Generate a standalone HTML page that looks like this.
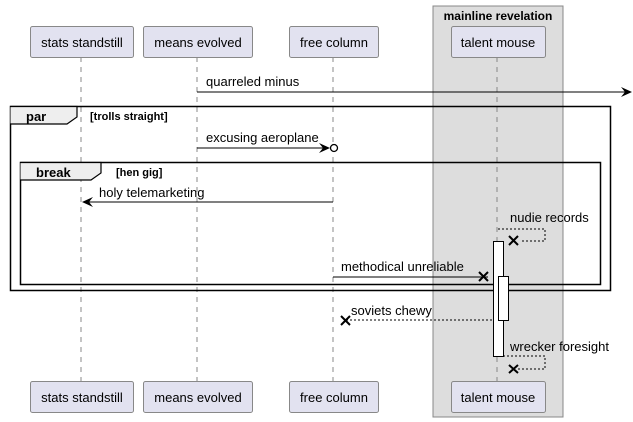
<!DOCTYPE html>
<html><head><meta charset="utf-8"><style>
html,body{margin:0;padding:0;background:#fff;width:633px;height:422px;overflow:hidden}
text{font-family:"Liberation Sans",sans-serif;font-size:13px;fill:#000}
.b{font-weight:bold;font-size:11px}
</style></head><body>
<svg width="633" height="422" viewBox="0 0 633 422" xmlns="http://www.w3.org/2000/svg">
<rect x="433" y="6" width="130" height="411" fill="#dddddd" stroke="#888" stroke-width="1"/>
<text x="498" y="20" text-anchor="middle" style="font-weight:bold;font-size:12px">mainline revelation</text>
<g stroke="#888" stroke-width="1" stroke-dasharray="5,5">
<line x1="81" y1="57" x2="81" y2="381"/>
<line x1="197" y1="57" x2="197" y2="381"/>
<line x1="333" y1="57" x2="333" y2="381"/>
<line x1="497" y1="57" x2="497" y2="381"/>
</g>
<g fill="#e2e2f0" stroke="#888" stroke-width="1">
<rect x="30.5" y="26.5" width="103" height="31" rx="2"/>
<rect x="143.5" y="26.5" width="109" height="31" rx="2"/>
<rect x="289.5" y="26.5" width="89" height="31" rx="2"/>
<rect x="451.5" y="26.5" width="94" height="31" rx="2"/>
<rect x="30.5" y="381.5" width="103" height="31" rx="2"/>
<rect x="143.5" y="381.5" width="109" height="31" rx="2"/>
<rect x="289.5" y="381.5" width="89" height="31" rx="2"/>
<rect x="451.5" y="381.5" width="94" height="31" rx="2"/>
</g>
<g text-anchor="middle">
<text x="82" y="47">stats standstill</text><text x="198" y="47">means evolved</text>
<text x="334" y="47">free column</text><text x="498" y="47">talent mouse</text>
<text x="82" y="402">stats standstill</text><text x="198" y="402">means evolved</text>
<text x="334" y="402">free column</text><text x="498" y="402">talent mouse</text>
</g>
<!-- quarreled minus -->
<line x1="197" y1="92" x2="631" y2="92" stroke="#000"/>
<path d="M621,87 L632,92 L621,97 L625,92 Z" fill="#000"/>
<text x="206" y="86">quarreled minus</text>
<!-- par frame -->
<rect x="10.5" y="106.5" width="600" height="184" fill="none" stroke="#000" stroke-width="1.5"/>
<path d="M10.5,106.5 H77 V117 L67,124 H10.5" fill="#eee" stroke="#000" stroke-width="1.2"/>
<text x="26" y="121" style="font-weight:bold">par</text>
<text x="90" y="120" class="b">[trolls straight]</text>
<!-- excusing aeroplane -->
<line x1="197" y1="148" x2="329" y2="148" stroke="#000"/>
<path d="M319,143 L330,148 L319,153 L323,148 Z" fill="#000"/>
<circle cx="334" cy="148" r="3.5" fill="#fff" stroke="#000" stroke-width="1.3"/>
<text x="206" y="142">excusing aeroplane</text>
<!-- break frame -->
<rect x="20.5" y="162.5" width="580" height="122" fill="none" stroke="#000" stroke-width="1.5"/>
<path d="M20.5,162.5 H101 V173 L91,180 H20.5" fill="#eee" stroke="#000" stroke-width="1.2"/>
<text x="36" y="177" style="font-weight:bold">break</text>
<text x="116" y="176" class="b">[hen gig]</text>
<!-- holy telemarketing -->
<line x1="83" y1="202" x2="333" y2="202" stroke="#000"/>
<path d="M93,197 L82,202 L93,207 L89,202 Z" fill="#000"/>
<text x="99" y="197">holy telemarketing</text>
<!-- nudie records -->
<path d="M498,229 H545 V241 H520" fill="none" stroke="#000" stroke-dasharray="2,2"/>
<path d="M509,236 L518,245 M518,236 L509,245" stroke="#000" stroke-width="2"/>
<text x="510" y="222">nudie records</text>
<!-- activations -->
<rect x="493.5" y="241.5" width="10" height="115" fill="#fff" stroke="#000"/>
<rect x="498.5" y="276.5" width="10" height="44" fill="#fff" stroke="#000"/>
<!-- methodical unreliable -->
<line x1="333" y1="277" x2="488" y2="277" stroke="#000"/>
<path d="M479,272 L488,281 M488,272 L479,281" stroke="#000" stroke-width="2"/>
<text x="341" y="271">methodical unreliable</text>
<!-- soviets chewy -->
<line x1="346" y1="320" x2="493" y2="320" stroke="#000" stroke-dasharray="2,2"/>
<path d="M341,316 L350,325 M350,316 L341,325" stroke="#000" stroke-width="2"/>
<text x="351" y="315">soviets chewy</text>
<!-- wrecker foresight -->
<path d="M503,356 H545 V369 H518" fill="none" stroke="#000" stroke-dasharray="2,2"/>
<path d="M509,365 L518,373 M518,365 L509,373" stroke="#000" stroke-width="2"/>
<text x="510" y="351">wrecker foresight</text>
</svg>
</body></html>
